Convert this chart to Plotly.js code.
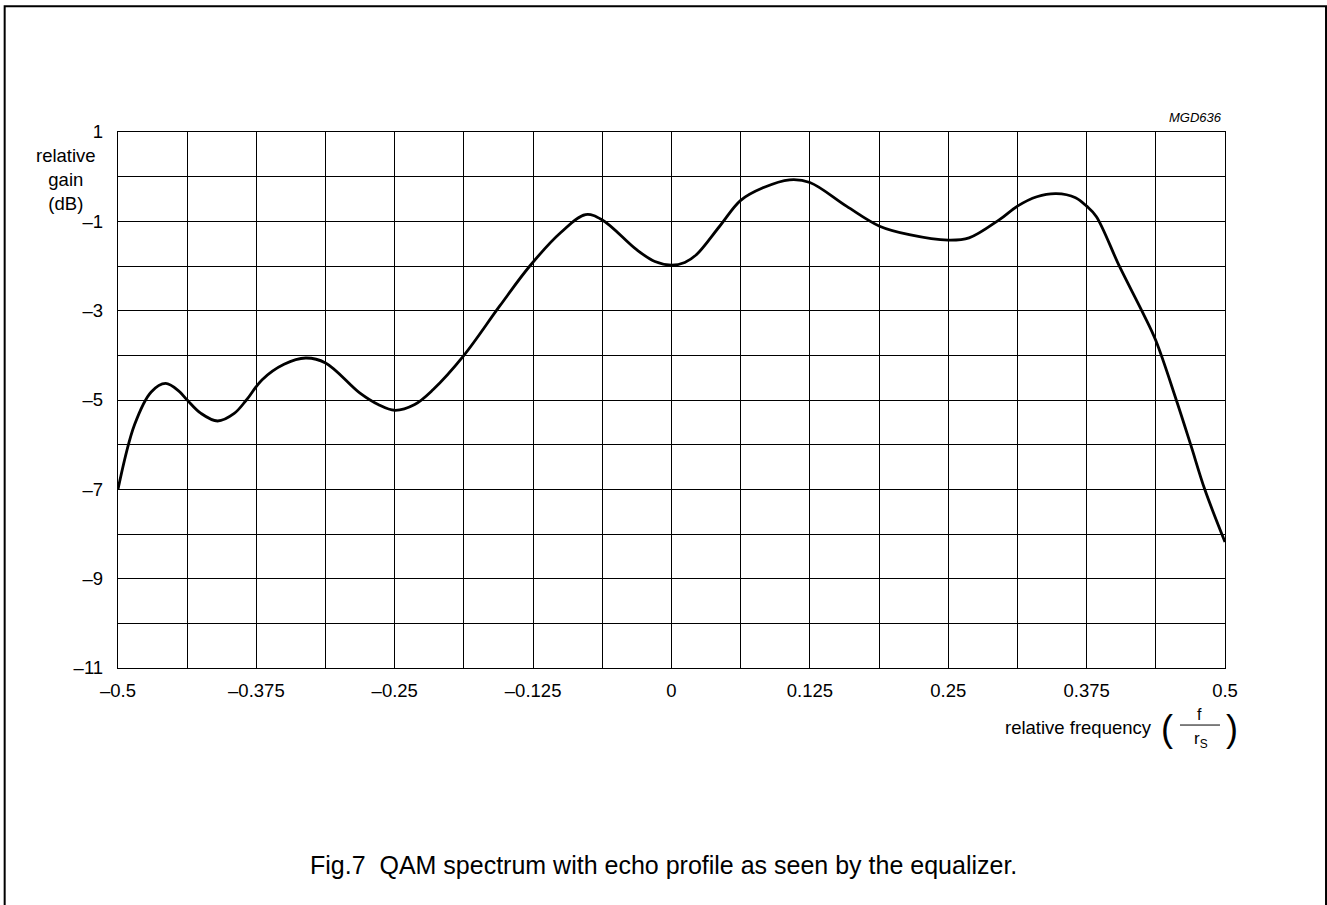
<!DOCTYPE html>
<html>
<head>
<meta charset="utf-8">
<script src="https://cdn.plot.ly/plotly-3.0.1.min.js"></script>
<style>html,body{margin:0;padding:0;background:#fff;}#chart{width:1327px;height:905px;}</style>
</head>
<body>
<div id="chart"></div>
<script>
// relative frequency (f / r_s)
var freq = [-0.5, -0.485, -0.47, -0.457, -0.445, -0.4375, -0.425, -0.41, -0.395, -0.384,
            -0.37, -0.35, -0.3305, -0.3125, -0.2817, -0.265, -0.25, -0.232, -0.2155, -0.1875,
            -0.1553, -0.128, -0.10, -0.0776, -0.0625, -0.0318, -0.015, 0, 0.012, 0.0224,
            0.0435, 0.0625, 0.0826, 0.1067, 0.125, 0.158, 0.188, 0.2148, 0.25, 0.2688,
            0.2963, 0.3125, 0.33, 0.3475, 0.365, 0.375, 0.3837, 0.4047, 0.4258, 0.4375,
            0.456, 0.469, 0.4817, 0.5];
// relative gain (dB)
var gain = [-7.0, -5.55, -4.82, -4.63, -4.8, -5.0, -5.3, -5.47, -5.3, -5.0,
            -4.55, -4.2, -4.06, -4.17, -4.84, -5.1, -5.23, -5.1, -4.77, -4.0,
            -2.9, -2.0, -1.25, -0.85, -0.97, -1.63, -1.9, -1.98, -1.92, -1.75,
            -1.11, -0.53, -0.25, -0.07, -0.13, -0.66, -1.11, -1.30, -1.42, -1.37,
            -0.96, -0.66, -0.45, -0.38, -0.47, -0.66, -0.89, -2.01, -3.05, -3.67,
            -5.0, -6.0, -7.0, -8.18];

var xTickVals = [-0.5, -0.375, -0.25, -0.125, 0, 0.125, 0.25, 0.375, 0.5];
var xTickText = ["\u20130.5", "\u20130.375", "\u20130.25", "\u20130.125", "0", "0.125", "0.25", "0.375", "0.5"];
var yTickVals = [1, -1, -3, -5, -7, -9, -11];
var yTickText = ["1", "\u20131", "\u20133", "\u20135", "\u20137", "\u20139", "\u201311"];

var yLabel = "relative<br>gain<br>(dB)";
var xLabel = "relative frequency";
var caption = "Fig.7  QAM spectrum with echo profile as seen by the equalizer.";
var code = "MGD636";

// plot area geometry in pixels
var W = 1327, H = 905, L = 118.3, R = 1225, T = 132.3, B = 668;
function px(x) { return (x - L) / (R - L); }
function py(y) { return (B - y) / (B - T); }

var FONT = "Liberation Sans, Arial, Helvetica, sans-serif";

var trace = {
  x: freq, y: gain, type: 'scatter', mode: 'lines',
  line: {color: '#000', width: 2.8, shape: 'spline', smoothing: 1.0},
  hoverinfo: 'skip', cliponaxis: false
};

var layout = {
  width: W, height: H, autosize: false,
  paper_bgcolor: '#fff', plot_bgcolor: '#fff',
  showlegend: false,
  margin: {l: L, r: W - R, t: T, b: H - B, pad: 0},
  font: {family: FONT, size: 18, color: '#000'},
  xaxis: {
    range: [-0.5, 0.5], tickmode: 'array', tickvals: xTickVals, ticktext: xTickText,
    showgrid: true, gridcolor: '#000', gridwidth: 1,
    minor: {tickmode: 'linear', tick0: -0.5, dtick: 0.0625, showgrid: true, gridcolor: '#000', gridwidth: 1, ticks: ''},
    showline: true, linecolor: '#000', linewidth: 1.2, mirror: true,
    zeroline: false, ticks: '', ticklabelstandoff: 6,
    tickfont: {family: FONT, size: 18.5, color: '#000'}, fixedrange: true
  },
  yaxis: {
    range: [-11, 1], tickmode: 'array', tickvals: yTickVals, ticktext: yTickText,
    showgrid: true, gridcolor: '#000', gridwidth: 1,
    minor: {tickmode: 'linear', tick0: -11, dtick: 1, showgrid: true, gridcolor: '#000', gridwidth: 1, ticks: ''},
    showline: true, linecolor: '#000', linewidth: 1.2, mirror: true,
    zeroline: false, ticks: '', ticklabelstandoff: 10,
    tickfont: {family: FONT, size: 18.5, color: '#000'}, fixedrange: true
  },
  shapes: [
    {type: 'rect', xref: 'paper', yref: 'paper',
     x0: px(5), x1: px(1326), y0: py(6.7), y1: py(915),
     line: {color: '#000', width: 2}, fillcolor: 'rgba(0,0,0,0)', layer: 'below'},
    {type: 'line', xref: 'paper', yref: 'paper',
     x0: px(1180), x1: px(1220), y0: py(725), y1: py(725),
     line: {color: '#000', width: 1}}
  ],
  annotations: [
    {text: yLabel, xref: 'paper', yref: 'paper', x: px(66), y: py(180),
     xanchor: 'center', yanchor: 'middle', showarrow: false, align: 'center',
     font: {family: FONT, size: 18.5, color: '#000'}},
    {text: code, xref: 'paper', yref: 'paper', x: px(1224), y: py(118),
     xanchor: 'right', yanchor: 'middle', showarrow: false,
     font: {family: "Liberation Sans, Arial, sans-serif", size: 13, color: '#000', style: 'italic'}},
    {text: xLabel, xref: 'paper', yref: 'paper', x: px(1154), y: py(727),
     xanchor: 'right', yanchor: 'middle', showarrow: false,
     font: {family: FONT, size: 18.5, color: '#000'}},
    {text: "(", xref: 'paper', yref: 'paper', x: px(1167), y: py(728),
     xanchor: 'center', yanchor: 'middle', showarrow: false,
     font: {family: FONT, size: 36, color: '#000'}},
    {text: ")", xref: 'paper', yref: 'paper', x: px(1232), y: py(728),
     xanchor: 'center', yanchor: 'middle', showarrow: false,
     font: {family: FONT, size: 36, color: '#000'}},
    {text: "f", xref: 'paper', yref: 'paper', x: px(1200), y: py(714),
     xanchor: 'center', yanchor: 'middle', showarrow: false,
     font: {family: FONT, size: 16, color: '#000'}},
    {text: "r<sub>S</sub>", xref: 'paper', yref: 'paper', x: px(1201), y: py(740),
     xanchor: 'center', yanchor: 'middle', showarrow: false,
     font: {family: FONT, size: 17, color: '#000'}},
    {text: caption, xref: 'paper', yref: 'paper', x: px(663.5), y: py(865),
     xanchor: 'center', yanchor: 'middle', showarrow: false,
     font: {family: FONT, size: 25, color: '#000'}}
  ]
};

Plotly.newPlot('chart', [trace], layout, {displayModeBar: false, staticPlot: true});
</script>
</body>
</html>
